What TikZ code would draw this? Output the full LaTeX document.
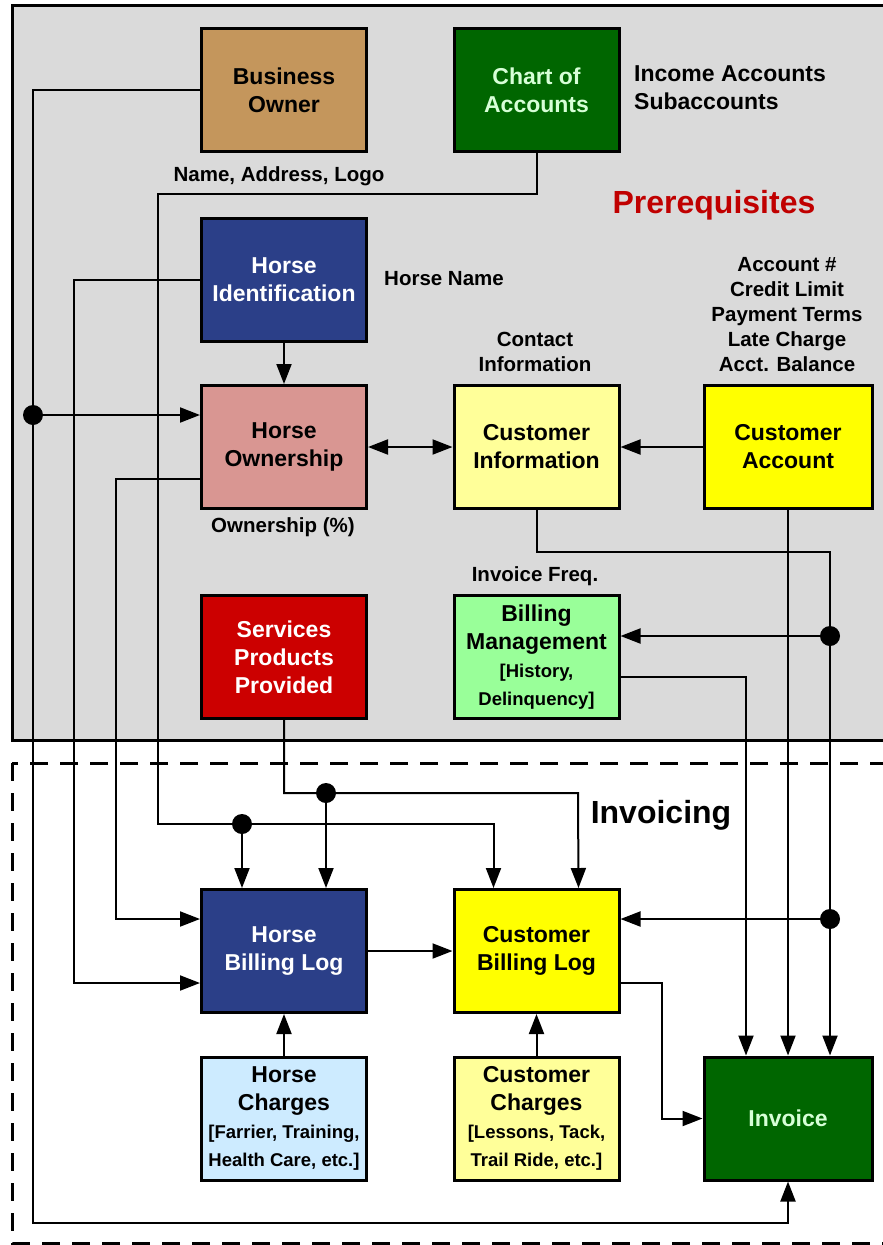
\documentclass[tikz,border=0pt]{standalone}
\usepackage{fontspec}
\setmainfont{Liberation Sans}
\usetikzlibrary{arrows.meta}
\definecolor{bggray}{RGB}{218,218,218}
\definecolor{ownertan}{RGB}{196,150,92}
\definecolor{darkgrn}{RGB}{0,102,0}
\definecolor{grntext}{RGB}{215,255,215}
\definecolor{navyblue}{RGB}{43,63,136}
\definecolor{pinkbox}{RGB}{217,150,146}
\definecolor{paleyel}{RGB}{255,255,153}
\definecolor{brightyel}{RGB}{255,255,0}
\definecolor{redbox}{RGB}{204,0,0}
\definecolor{palegrn}{RGB}{153,255,153}
\definecolor{paleblue}{RGB}{205,235,255}
\definecolor{prereqred}{RGB}{192,0,0}
\newcommand\bxf{\bfseries\fontsize{23}{28}\selectfont}
\newcommand\smf{\bfseries\fontsize{18.5}{25}\selectfont}
\newcommand\lbf{\bfseries\fontsize{20.5}{25}\selectfont}
\newcommand\ttlf{\bfseries\fontsize{32}{38}\selectfont}
\tikzset{
  box/.style={draw=black, line width=3pt, minimum width=165pt, minimum height=123pt,
    inner sep=0pt, align=center, font=\bxf},
  conn/.style={line width=2pt},
  arr/.style={conn, -{Triangle[length=20pt,width=15pt]}},
  darr/.style={conn, {Triangle[length=20pt,width=15pt]}-{Triangle[length=20pt,width=15pt]}},
  dot/.style={circle, fill=black, inner sep=0pt, minimum size=20pt},
  lbl/.style={font=\lbf, align=center, inner sep=0pt},
}
\begin{document}
\begin{tikzpicture}[x=1pt,y=-1pt]
\useasboundingbox (0,0) rectangle (883,1245);
\fill[white] (0,0) rectangle (883,1245);
% frames
\draw[line width=3pt, fill=bggray] (12,5) rectangle (900,740);
\draw[line width=3pt, dash pattern=on 18pt off 12pt] (12,763) rectangle (900,1243);

% boxes
\node[box, fill=ownertan] (bo) at (284,90) {Business\\Owner};
\node[box, fill=darkgrn, text=grntext] (coa) at (536.5,90) {Chart of\\Accounts};
\node[box, fill=navyblue, text=white] (hid) at (284,279.5) {Horse\\Identification};
\node[box, fill=pinkbox] (hown) at (284,447) {Horse\\Ownership};
\node[box, fill=paleyel] (cinfo) at (536.5,447) {Customer\\Information};
\node[box, fill=brightyel, minimum width=168pt] (cacct) at (788,447) {Customer\\Account};
\node[box, fill=redbox, text=white] (spp) at (284,657) {Services\\Products\\Provided};
\node[box, fill=palegrn] (bm) at (536.5,657) {Billing\\Management\\{\smf [History,}\\{\smf Delinquency]}};
\node[box, fill=navyblue, text=white] (hbl) at (284,951) {Horse\\Billing Log};
\node[box, fill=brightyel] (cbl) at (536.5,951) {Customer\\Billing Log};
\node[box, fill=paleblue] (hch) at (284,1118.5) {Horse\\Charges\\{\smf [Farrier, Training,}\\{\smf Health Care, etc.]}};
\node[box, fill=paleyel] (cch) at (536.5,1118.5) {Customer\\Charges\\{\smf [Lessons, Tack,}\\{\smf Trail Ride, etc.]}};
\node[box, fill=darkgrn, text=grntext, minimum width=168pt] (inv) at (788,1118.5) {Invoice};

% labels
\node[lbl, anchor=base] (l1) at (279,181) {Name, Address, Logo};
\node[lbl, font=\bxf, align=left, anchor=north west] (l2) at (634,65) {Income Accounts\\Subaccounts};
\node[lbl, font=\ttlf, text=prereqred, anchor=base] (l3) at (714,213) {Prerequisites};
\node[lbl, anchor=base west] (l4) at (384,285) {Horse Name};
\node[lbl, anchor=north] (l5) at (535,332) {Contact\\Information};
\node[lbl, anchor=north] (l6) at (787,257) {Account \#\\Credit Limit\\Payment Terms\\Late Charge\\Acct. Balance};
\node[lbl, anchor=base] (l7) at (283,532) {Ownership (\%)};
\node[lbl, anchor=base] (l8) at (535,581) {Invoice Freq.};
\node[lbl, font=\ttlf, anchor=base] (l9) at (661,823) {Invoicing};

% junction dots
\node[dot] (j1) at (33,415) {};
\node[dot] (j2) at (242,824) {};
\node[dot] (j3) at (326,793) {};
\node[dot] (j4) at (830,636) {};
\node[dot] (j5) at (830,919) {};

% corner coordinates
\coordinate (c1) at (33,1223);
\coordinate (c2) at (158,194);
\coordinate (c3) at (158,824);
\coordinate (c4) at (74,983);
\coordinate (c5) at (116,919);
\coordinate (c6) at (830,552);
\coordinate (c7) at (578,793);
\coordinate (c8) at (662,1118.5);

% connectors
\draw[arr] (bo.west) -| (c1) -| (inv.south);
\draw[arr] (j1) -- (hown.west |- j1);
\draw[arr] (coa.south) |- (c2) -- (c3) -| ([xshift=-43pt]cbl.north);
\draw[arr] (j2) -- ([xshift=-42pt]hbl.north);
\draw[arr] (hid.west) -| (c4) -- (hbl.west |- c4);
\draw[arr] ([yshift=-32pt]hown.west) -| (c5) -- (hbl.west |- c5);
\draw[arr] (hid.south) -- (hown.north);
\draw[darr] (hown.east) -- (cinfo.west);
\draw[arr] (cacct.west) -- (cinfo.east);
\draw[arr] (cinfo.south) |- (c6) -- ([xshift=42pt]inv.north);
\draw[arr] (j4) -- (bm.east |- j4);
\draw[arr] (j5) -- (cbl.east |- j5);
\draw[arr] (cacct.south) -- (inv.north);
\draw[arr] ([yshift=-20pt]bm.east) -| ([xshift=-42pt]inv.north);
\draw[arr] (spp.south) |- (c7) -- ([xshift=42pt]cbl.north);
\draw[arr] (j3) -- ([xshift=42pt]hbl.north);
\draw[arr] (hbl.east) -- (cbl.west);
\draw[arr] ([yshift=-32pt]cbl.east) -| (c8) -- (inv.west);
\draw[arr] (hch.north) -- (hbl.south);
\draw[arr] (cch.north) -- (cbl.south);
\end{tikzpicture}
\end{document}
